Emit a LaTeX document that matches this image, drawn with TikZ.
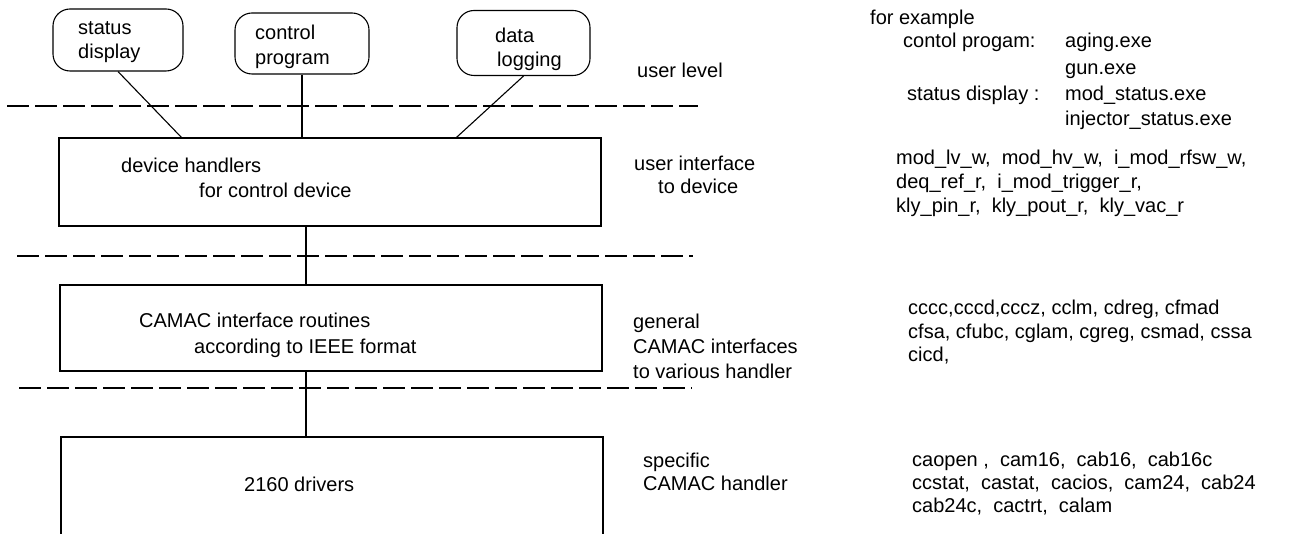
\documentclass[tikz,border=0pt]{standalone}
\usepackage{fontspec}
\setmainfont{Liberation Sans}
\usetikzlibrary{calc}
\begin{document}
\begin{tikzpicture}[x=1pt,y=-1pt,
  txt/.style={anchor=west, inner sep=0pt, text height=14pt, text depth=4pt,
              font=\fontsize{20}{24}\selectfont},
  ubox/.style={draw, rounded corners=17pt, line width=1.1pt, inner sep=0pt},
  lbox/.style={draw, line width=1.1pt, inner sep=0pt},
  conn/.style={line width=1.1pt},
  sep/.style={line width=1.1pt, dash pattern=on 22pt off 6pt}]
\useasboundingbox (0,0) rectangle (1295,534);
\clip (0,0) rectangle (1295,534);
\fill[white] (0,0) rectangle (1295,534);

% user programs
\node[ubox, minimum width=130pt, minimum height=62pt] (sd) at (118,40) {};
\node[txt] (sdt1) at (78,30) {status};
\node[txt] (sdt2) at (78,54) {display};
\node[ubox, minimum width=134pt, minimum height=61pt] (cp) at (302,43.5) {};
\node[txt] (cpt1) at (255,35) {control};
\node[txt] (cpt2) at (255,60) {program};
\node[ubox, minimum width=133pt, minimum height=65pt] (dl) at (523.5,43) {};
\node[txt] (dlt1) at (495,38) {data};
\node[txt] (dlt2) at (497,62) {logging};

% layer boxes
\node[lbox, minimum width=542pt, minimum height=88pt] (dev) at (330,182) {};
\node[txt] (devt1) at (121,168) {device handlers};
\node[txt] (devt2) at (199,193) {for control device};
\node[lbox, minimum width=542pt, minimum height=86pt] (cam) at (331,328) {};
\node[txt] (camt1) at (139,323) {CAMAC interface routines};
\node[txt] (camt2) at (194,348) {according to IEEE format};
\node[lbox, minimum width=542pt, minimum height=120pt] (drv) at (332,497) {};
\node[txt] (drvt) at (244,486) {2160 drivers};

% separators
\draw[sep] (7,106) -- (698,106);
\draw[sep] (17,256) -- (693,256);
\draw[sep] (19,388) -- (692,388);

% connectors
\coordinate (vx) at (306,0);
\draw[conn] (sd.south) -- ($(dev.north west)+(123,0)$);
\draw[conn] (cp.south) -- (cp.south |- dev.north);
\draw[conn] (dl.south) -- ($(dev.north west)+(398,0)$);
\draw[conn] (dev.south -| vx) -- (cam.north -| vx);
\draw[conn] (cam.south -| vx) -- (drv.north -| vx);

% level labels
\node[txt] (l1) at (637,73) {user level};
\node[txt] (l2a) at (634,166) {user interface};
\node[txt] (l2b) at (658,189) {to device};
\node[txt] (l3a) at (633,324) {general};
\node[txt] (l3b) at (633,348) {CAMAC interfaces};
\node[txt] (l3c) at (633,373) {to various handler};
\node[txt] (l4a) at (643,462) {specific};
\node[txt] (l4b) at (643,485) {CAMAC handler};

% examples
\node[txt] (e0) at (870,20) {for example};
\node[txt] (e1) at (903,43) {contol progam:};
\node[txt] (e1a) at (1065,43) {aging.exe};
\node[txt] (e1b) at (1065,70) {gun.exe};
\node[txt] (e2) at (907,96) {status display :};
\node[txt] (e2a) at (1065,96) {mod\_status.exe};
\node[txt] (e2b) at (1065,121) {injector\_status.exe};
\node[txt] (f1) at (896,160) {mod\_lv\_w,\ \ mod\_hv\_w,\ \ i\_mod\_rfsw\_w,};
\node[txt] (f2) at (896,184) {deq\_ref\_r,\ \ i\_mod\_trigger\_r,};
\node[txt] (f3) at (896,208) {kly\_pin\_r,\ \ kly\_pout\_r,\ \ kly\_vac\_r};
\node[txt] (g1) at (908,310) {cccc,cccd,cccz, cclm, cdreg, cfmad};
\node[txt] (g2) at (908,333) {cfsa, cfubc, cglam, cgreg, csmad, cssa};
\node[txt] (g3) at (908,356) {cicd,};
\node[txt] (h1) at (912,461) {caopen ,\ \ cam16,\ \ cab16,\ \ cab16c};
\node[txt] (h2) at (912,484) {ccstat,\ \ castat,\ \ cacios,\ \ cam24,\ \ cab24};
\node[txt] (h3) at (912,507) {cab24c,\ \ cactrt,\ \ calam};
\end{tikzpicture}
\end{document}
